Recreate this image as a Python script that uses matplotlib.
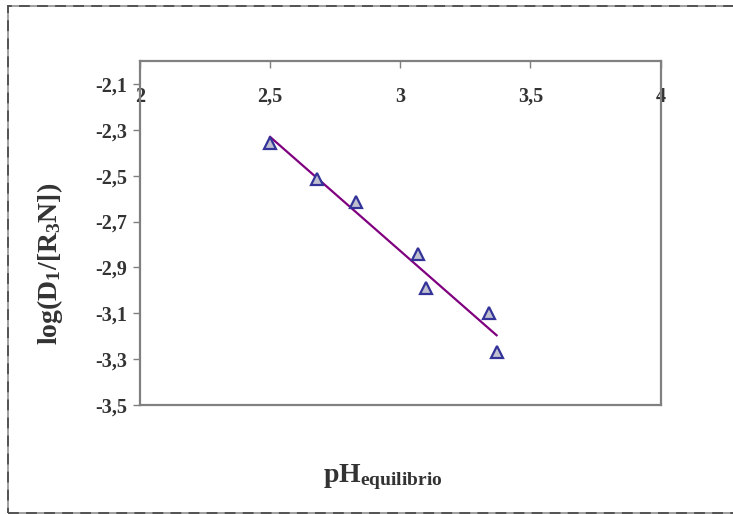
import numpy as np
import matplotlib
matplotlib.use('Agg')
import matplotlib.pyplot as plt
from matplotlib.patches import Rectangle
from matplotlib.ticker import FuncFormatter

plt.rcParams['font.family'] = 'Liberation Serif'
plt.rcParams['font.weight'] = 'bold'
plt.rcParams['mathtext.fontset'] = 'custom'
plt.rcParams['mathtext.rm'] = 'Liberation Serif:bold'
plt.rcParams['mathtext.bf'] = 'Liberation Serif:bold'
plt.rcParams['mathtext.default'] = 'rm'

# equilibrium pH and log distribution ratio
ph = [2.50, 2.68, 2.83, 3.07, 3.10, 3.34, 3.37]
log_d = [-2.356, -2.516, -2.615, -2.843, -2.988, -3.099, -3.270]

x_ticks = [2, 2.5, 3, 3.5, 4]
y_ticks = [-3.5, -3.3, -3.1, -2.9, -2.7, -2.5, -2.3, -2.1]

# linear trend line over the measured range
slope, inter = np.polyfit(ph, log_d, 1)
x_fit = np.array([min(ph), max(ph)])
y_fit = slope*x_fit + inter

fig = plt.figure(figsize=(7.33, 5.14), dpi=100)
ax = fig.add_axes([140/733., 1-405/514., (660.5-140)/733., (405-61)/514.])

ax.plot(x_fit, y_fit, color='#800080', lw=1.6, zorder=2)
ax.plot(ph, log_d, '^', ms=9, mfc='#C0C0D0', mec='#333399', mew=1.6, zorder=3)

ax.set_xlim(2, 4)
ax.set_ylim(-3.5, -2.0)
ax.set_xticks(x_ticks)
ax.set_yticks(y_ticks)

comma = FuncFormatter(lambda v, p: ('%g' % v).replace('.', ','))
ax.xaxis.set_major_formatter(comma)
ax.yaxis.set_major_formatter(comma)

# x axis crosses at the top, labels sit just under it
ax.tick_params(axis='x', bottom=False, labelbottom=False, top=True, labeltop=True,
               direction='in', length=5, width=1, color='#808080', pad=-33,
               labelsize=14.5, labelcolor='#333333')
ax.tick_params(axis='y', direction='out', length=5, width=1, color='#808080',
               pad=4, labelsize=14.5, labelcolor='#333333')
for s in ax.spines.values():
    s.set_color('#808080')
    s.set_linewidth(1.6)

fig.text(50/733., 1-264/514., r'log(D$_1$/[R$_3$N])', rotation=90, ha='center', va='center',
         fontsize=20, color='#333333', fontweight='bold')
fig.text(383/733., 1-477/514., r'pH$_{\mathrm{equilibrio}}$', ha='center', va='center',
         fontsize=20, color='#333333', fontweight='bold')

# dashed outer frame, right side runs off the canvas
frame = Rectangle((8/733., 1.5/514.), 1.2, 1-7.5/514., transform=fig.transFigure,
                  fill=False, ec='#999999', lw=1.3)
fig.patches.append(frame)
frame2 = Rectangle((8/733., 1.5/514.), 1.2, 1-7.5/514., transform=fig.transFigure,
                   fill=False, ec='#4d4d4d', lw=1.3, ls=(0, (6, 4)))
fig.patches.append(frame2)

fig.savefig('out.png', dpi=100)
